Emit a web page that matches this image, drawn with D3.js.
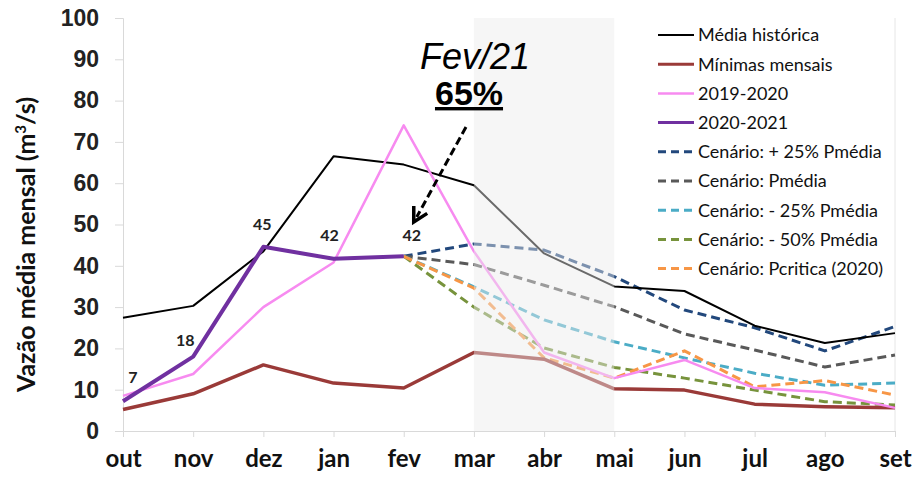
<!DOCTYPE html>
<html>
<head>
<meta charset="utf-8">
<script src="https://cdn.jsdelivr.net/npm/d3@7"></script>
<style>
  body { margin: 0; background: #fff; }
  svg { display: block; }
</style>
</head>
<body>
<div id="chart"></div>
<script>
// data
var months = ["out", "nov", "dez", "jan", "fev", "mar", "abr", "mai", "jun", "jul", "ago", "set"];
var mediaHistorica = [27.4, 30.3, 43.5, 66.5, 64.5, 59.5, 43, 35, 33.9, 25.5, 21.3, 23.7];
var minimasMensais = [5.2, 9, 16, 11.6, 10.4, 19, 17.4, 10.2, 9.9, 6.5, 5.9, 5.6];
var ano1920 = [8.5, 13.8, 30, 40.8, 74, 43.5, 19, 12.8, 17.2, 10.4, 9.4, 5.6];
var ano2021 = [7.2, 18, 44.6, 41.7, 42.3];
var ano2021Labels = ["7", "18", "45", "42", "42"];
// scenarios start at "fev"
var scenarioMonths = months.slice(4);
var cenMais25 = [42.3, 45.3, 43.8, 37.4, 29.3, 25, 19.4, 25.3];
var cenPmedia = [42.3, 40.3, 35.3, 30.1, 23.5, 19.6, 15.5, 18.4];
var cenMenos25 = [42.3, 34.9, 26.9, 21.6, 17.7, 14, 11.1, 11.6];
var cenMenos50 = [42.3, 30, 20.1, 15.4, 12.8, 9.9, 7.1, 6.3];
var cenPcritica = [42.3, 34.6, 17.7, 12.8, 19.4, 10.7, 12.2, 8.7];
var yTicks = [0, 10, 20, 30, 40, 50, 60, 70, 80, 90, 100];
var shadedMonths = ["mar", "mai"];

function drawChart() {
  var W = 917, H = 481;
  var margin = { top: 18, right: 22, bottom: 50, left: 123 };
  var width = W - margin.left - margin.right,
    height = H - margin.top - margin.bottom;

  var svg = d3.select("#chart").append("svg")
    .attr("width", W).attr("height", H)
    .append("g")
    .attr("transform", "translate(" + margin.left + "," + margin.top + ")");

  var x = d3.scalePoint().domain(months).range([0, width]);
  var y = d3.scaleLinear().domain([0, 100]).range([height, 0]);

  var axisColor = "#d9d9d9";
  var calibri = "Lato, 'Open Sans', sans-serif";

  // y axis
  var yAxis = svg.append("g")
    .call(d3.axisLeft(y).tickValues(yTicks).tickSize(8).tickPadding(16));
  yAxis.select(".domain").attr("stroke", axisColor);
  yAxis.selectAll(".tick line").attr("stroke", axisColor);
  yAxis.selectAll(".tick text")
    .attr("fill", "#222")
    .style("font-family", "'Liberation Sans', Arial, sans-serif")
    .style("font-weight", "bold")
    .style("font-size", "23px");

  // x axis
  var xAxis = svg.append("g")
    .attr("transform", "translate(0," + height + ")")
    .call(d3.axisBottom(x).tickSize(6).tickPadding(13).tickSizeOuter(0));
  xAxis.select(".domain").attr("stroke", axisColor);
  xAxis.selectAll(".tick line").attr("stroke", axisColor);
  xAxis.selectAll(".tick text")
    .attr("fill", "#111")
    .style("font-family", calibri)
    .style("font-weight", "bold")
    .style("font-size", "24px");

  // right border
  svg.append("line")
    .attr("x1", width).attr("x2", width)
    .attr("y1", 0).attr("y2", height)
    .attr("stroke", "#e6e6e6");

  // y axis title
  svg.append("text")
    .attr("transform", "translate(" + (35 - margin.left) + "," + (height / 2 + 20) + ") rotate(-90)")
    .attr("text-anchor", "middle")
    .style("font-family", calibri)
    .style("font-weight", "bold")
    .style("font-size", "25px")
    .attr("fill", "#111")
    .html("Vazão média mensal (m<tspan baseline-shift='super' font-size='15px'>3</tspan>/s)");

  var line = d3.line()
    .x(function (d) { return x(d.m); })
    .y(function (d) { return y(d.v); });

  function pairs(ms, vs) {
    return vs.map(function (v, i) { return { m: ms[i], v: v }; });
  }

  var series = [
    { name: "Média histórica", m: months, v: mediaHistorica, color: "#000000", w: 2, dash: null },
    { name: "Mínimas mensais", m: months, v: minimasMensais, color: "#9a3a38", w: 3.5, dash: null },
    { name: "2019-2020", m: months, v: ano1920, color: "#f78bf0", w: 2.5, dash: null },
    { name: "2020-2021", m: months, v: ano2021, color: "#7030a0", w: 4, dash: null },
    { name: "Cenário: + 25% Pmédia", m: scenarioMonths, v: cenMais25, color: "#22487c", w: 3, dash: "9,5" },
    { name: "Cenário: Pmédia", m: scenarioMonths, v: cenPmedia, color: "#595959", w: 3, dash: "9,5" },
    { name: "Cenário: - 25% Pmédia", m: scenarioMonths, v: cenMenos25, color: "#4bacc6", w: 3, dash: "9,5" },
    { name: "Cenário: - 50% Pmédia", m: scenarioMonths, v: cenMenos50, color: "#77933c", w: 3, dash: "9,5" },
    { name: "Cenário: Pcritica (2020)", m: scenarioMonths, v: cenPcritica, color: "#f79646", w: 3, dash: "9,5" }
  ];

  // draw order: scenarios first, then historic lines
  var drawOrder = [4, 5, 6, 7, 8, 1, 0, 2, 3];
  drawOrder.forEach(function (i) {
    var s = series[i];
    svg.append("path")
      .datum(pairs(s.m, s.v))
      .attr("d", line)
      .attr("fill", "none")
      .attr("stroke", s.color)
      .attr("stroke-width", s.w)
      .attr("stroke-dasharray", s.dash)
      .attr("stroke-linejoin", "round");
  });

  // shaded period drawn over the lines (they look faded there)
  svg.append("rect")
    .attr("x", x(shadedMonths[0]))
    .attr("y", 0)
    .attr("width", x(shadedMonths[1]) - x(shadedMonths[0]))
    .attr("height", height)
    .attr("fill", "#ececec")
    .attr("opacity", 0.45);

  // data labels for 2020-2021
  var labelDx = [10, -8, -1, -4, 8];
  var labelDy = [-18, -11, -17, -18, -15];
  svg.selectAll(".lbl")
    .data(ano2021)
    .enter().append("text")
    .attr("x", function (d, i) { return x(months[i]) + labelDx[i]; })
    .attr("y", function (d, i) { return y(d) + labelDy[i]; })
    .attr("text-anchor", "middle")
    .style("font-family", calibri)
    .style("font-weight", "bold")
    .style("font-size", "16px")
    .attr("fill", "#222")
    .text(function (d, i) { return ano2021Labels[i]; });

  // annotation
  var ann = svg.append("g");
  ann.append("text")
    .attr("x", 475 - margin.left).attr("y", 69 - margin.top)
    .attr("text-anchor", "middle")
    .style("font-family", "'Liberation Sans', Arial, sans-serif")
    .style("font-style", "italic")
    .style("font-size", "36px")
    .attr("fill", "#000")
    .text("Fev/21");
  ann.append("text")
    .attr("x", 469 - margin.left).attr("y", 105 - margin.top)
    .attr("text-anchor", "middle")
    .style("font-family", "'Liberation Sans', Arial, sans-serif")
    .style("font-weight", "bold")
    .style("font-size", "34px")
    .style("text-decoration", "underline")
    .attr("fill", "#000")
    .text("65%");

  // dashed arrow pointing to fev
  var ax1 = 466 - margin.left, ay1 = 127 - margin.top;
  var ax2 = x("fev") + 10, ay2 = 222 - margin.top;
  svg.append("line")
    .attr("x1", ax1).attr("y1", ay1)
    .attr("x2", ax2 + 3).attr("y2", ay2 - 5)
    .attr("stroke", "#000")
    .attr("stroke-width", 3)
    .attr("stroke-dasharray", "8,4");
  var ang = Math.atan2(ay2 - ay1, ax2 - ax1);
  var hl = 16, ha = 0.5;
  svg.append("path")
    .attr("d", "M" + (ax2 - hl * Math.cos(ang - ha)) + "," + (ay2 - hl * Math.sin(ang - ha)) +
      "L" + ax2 + "," + ay2 +
      "L" + (ax2 - hl * Math.cos(ang + ha)) + "," + (ay2 - hl * Math.sin(ang + ha)))
    .attr("fill", "none")
    .attr("stroke", "#000")
    .attr("stroke-width", 3.5);

  // legend
  var legend = svg.append("g")
    .attr("transform", "translate(" + (658 - margin.left) + "," + (35 - margin.top) + ")");
  var rowH = 29.2;
  series.forEach(function (s, i) {
    var g = legend.append("g").attr("transform", "translate(0," + (i * rowH) + ")");
    g.append("line")
      .attr("x1", 0).attr("x2", 36)
      .attr("y1", 0).attr("y2", 0)
      .attr("stroke", s.color)
      .attr("stroke-width", s.dash ? 3 : Math.min(s.w, 3))
      .attr("stroke-dasharray", s.dash ? "8,5" : null);
    g.append("text")
      .attr("x", 40).attr("y", 0)
      .attr("dy", "0.35em")
      .style("font-family", calibri)
      .style("font-size", "18px")
      .attr("fill", "#111")
      .text(s.name);
  });
}

drawChart();
</script>
</body>
</html>
